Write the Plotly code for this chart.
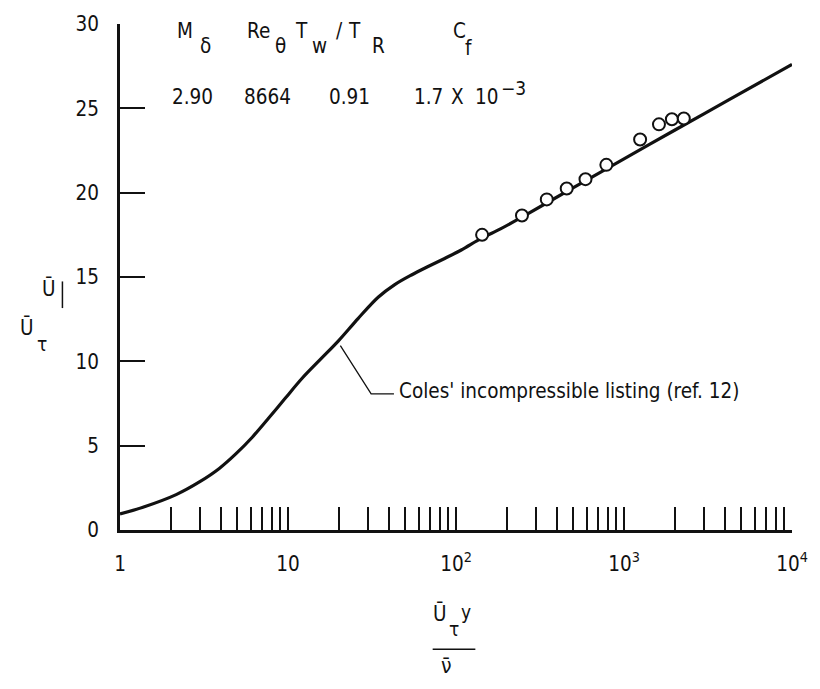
import plotly.graph_objects as go

# ---- data ----
coles_yplus = [1, 1.37, 2.16, 2.97, 3.9, 4.89, 6.13, 7.7, 9.65, 12.1, 15.9, 19.9,
               26.2, 34.4, 43.2, 54.3, 68.2, 85.6, 107.5, 142, 184, 247, 500,
               1000, 2000, 4200, 10000]
coles_uplus = [0.95, 1.35, 2.1, 2.85, 3.65, 4.51, 5.5, 6.65, 7.82, 8.98, 10.2, 11.2,
               12.55, 13.8, 14.55, 15.12, 15.62, 16.1, 16.6, 17.3, 17.85, 18.55, 20.3,
               22.0, 23.7, 25.5, 27.6]

data_yplus = [143, 247, 347, 456, 590, 785, 1247, 1615, 1928, 2270]
data_uplus = [17.5, 18.65, 19.6, 20.25, 20.8, 21.65, 23.15, 24.05, 24.35, 24.4]

x_tick_values = [1, 10, 100, 1000, 10000]
x_tick_labels = ["1", "10", "10<sup>2</sup>", "10<sup>3</sup>", "10<sup>4</sup>"]
y_tick_values = [0, 5, 10, 15, 20, 25, 30]

header_names = ["M", "Re", "T", "C"]
header_values = ["2.90", "8664", "0.91", "1.7", "X", "10", "−3"]

FONT = "Liberation Sans Narrow, Arial Narrow, DejaVu Sans Condensed, sans-serif"
INK = "#111111"
FS = 20.5

# geometry of the plot area in pixels
W, H = 820, 689
L, R, T, B = 120, 23, 17, 159
PW, PH = W - L - R, H - T - B


def px(x):
    return (x - L) / PW


def py(y):
    return (H - B - y) / PH


# unlabelled minor ticks 2..9 in each decade
minor_vals = [k * 10 ** d for d in range(4) for k in range(2, 10)]

fig = go.Figure()
fig.add_trace(go.Scatter(x=coles_yplus, y=coles_uplus, mode="lines",
                         line=dict(color=INK, width=3.2, shape="spline", smoothing=0.9),
                         hoverinfo="skip", showlegend=False))
fig.add_trace(go.Scatter(x=data_yplus, y=data_uplus, mode="markers",
                         marker=dict(symbol="circle", size=12, color="white",
                                     line=dict(color=INK, width=2)),
                         showlegend=False))

annotations = []
DY = -5  # vertical correction for annotation centring


def ann(text, x, y, size=FS, xanchor="center", yanchor="middle"):
    annotations.append(dict(text=text, x=px(x), y=py(y + DY), xref="paper", yref="paper",
                            showarrow=False, xanchor=xanchor, yanchor=yanchor,
                            font=dict(family=FONT, size=size, color=INK)))


# header block
ann(header_names[0], 185, 29)
ann("δ", 206, 44)
ann(header_names[1], 260, 29)
ann("θ", 282, 44)
ann(header_names[2], 303, 29)
ann("w", 321, 44)
ann("/", 341, 29)
ann("T", 356, 29)
ann("R", 380, 44)
ann(header_names[3], 462, 29)
ann("f", 471, 46)
ann(header_values[0], 193, 96)
ann(header_values[1], 269, 96)
ann(header_values[2], 351, 96)
ann(header_values[3], 431, 96)
ann(header_values[4], 460, 96)
ann(header_values[5], 489, 96)
ann(header_values[6], 516, 87, size=19)

# curve label
ann("Coles' incompressible listing (ref. 12)", 399, 394, size=20.5, xanchor="left")

# x-axis title (fraction)
ann("Ū", 442, 620)
ann("τ", 456, 635, size=19)
ann("y", 469, 618, size=19)
ann("ν̄", 449, 673, size=21)

# y-axis title (rotated fraction)
ann("Ū", 48, 290)
ann("Ū", 26, 330)
ann("τ", 41, 346, size=19)

shapes = [
    # leader line
    dict(type="path", xref="paper", yref="paper",
         path=f"M {px(342)} {py(343)} L {px(373)} {py(392)} L {px(396)} {py(392)}",
         line=dict(color=INK, width=1.3)),
    # x-title fraction bar
    dict(type="line", xref="paper", yref="paper", x0=px(435), x1=px(478),
         y0=py(651), y1=py(651), line=dict(color=INK, width=1.5)),
    # y-title fraction bar (vertical)
    dict(type="line", xref="paper", yref="paper", x0=px(62), x1=px(62),
         y0=py(278), y1=py(305), line=dict(color=INK, width=1.5)),
]

fig.update_layout(
    width=W, height=H,
    margin=dict(l=L, r=R, t=T, b=B, pad=0),
    paper_bgcolor="white", plot_bgcolor="white",
    font=dict(family=FONT, size=FS, color=INK),
    annotations=annotations, shapes=shapes,
    xaxis=dict(type="log", range=[0, 4], tickmode="array", tickvals=x_tick_values,
               ticktext=x_tick_labels, ticks="inside", ticklen=23, tickwidth=1.5,
               tickcolor=INK,
               minor=dict(tickmode="array", tickvals=minor_vals, ticks="inside",
                          ticklen=23, tickwidth=1.5, tickcolor=INK, showgrid=False),
               showline=True, linecolor=INK, linewidth=3,
               showgrid=False, zeroline=False, ticklabelstandoff=13,
               tickfont=dict(family=FONT, size=FS, color=INK)),
    yaxis=dict(range=[0, 30], tickmode="array", tickvals=y_tick_values,
               ticks="inside", ticklen=25, tickwidth=2, tickcolor=INK,
               showline=True, linecolor=INK, linewidth=3, showgrid=False,
               zeroline=False, ticklabelstandoff=14,
               tickfont=dict(family=FONT, size=FS, color=INK)),
)

fig.write_html("out.html")
